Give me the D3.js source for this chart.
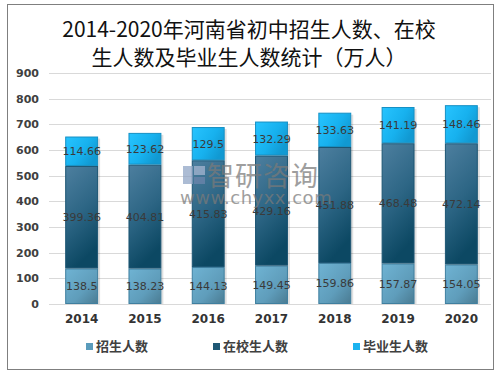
<!DOCTYPE html>
<meta charset="utf-8">
<style>
body { margin: 0; background: #fff; }
text { font-family: "Noto Sans CJK SC", "DejaVu Sans", sans-serif; }
</style>
<svg width="499" height="375"></svg>
<script src="https://cdn.jsdelivr.net/npm/d3@7"></script>
<script>

var years = ["2014", "2015", "2016", "2017", "2018", "2019", "2020"];
var enroll = [138.5, 138.23, 144.13, 149.45, 159.86, 157.87, 154.05];
var inSchool = [399.36, 404.81, 415.83, 429.16, 451.88, 468.48, 472.14];
var graduate = [114.66, 123.62, 129.5, 132.29, 133.63, 141.19, 148.46];
var seriesNames = ["招生人数", "在校生人数", "毕业生人数"];
var yTicks = [0, 100, 200, 300, 400, 500, 600, 700, 800, 900];

var svg = d3.select("svg");

var defs = svg.append("defs");
function grad(id, x2, y2, stops) {
  var g = defs.append("linearGradient").attr("id", id)
      .attr("x1", 0).attr("y1", 0).attr("x2", x2).attr("y2", y2);
  stops.forEach(function(s) {
    g.append("stop").attr("offset", s[0]).attr("stop-color", s[1]);
  });
}
grad("g0", 1, 1, [[0, "#6fb3d3"], [0.6, "#5f9dbb"], [1, "#4a7b92"]]);
grad("g1", 0.3, 1, [[0, "#4d7f9f"], [0.55, "#2c6584"], [1, "#0c4863"]]);
grad("g2", 1, 0.6, [[0, "#27c4ff"], [0.6, "#17b1ee"], [1, "#1199d2"]]);
var fills = ["url(#g0)", "url(#g1)", "url(#g2)"];
var strokes = ["#3f7f9f", "#1c5573", "#1690c4"];
var legendColors = ["#5a9cbc", "#1f5875", "#1cb3ef"];

// frame
svg.append("rect")
    .attr("x", 7.5).attr("y", 4.5)
    .attr("width", 486).attr("height", 365)
    .attr("fill", "none").attr("stroke", "#7f7f7f").attr("stroke-width", 1);

// title
var title = svg.append("text")
    .attr("text-anchor", "middle")
    .attr("font-size", 21)
    .attr("fill", "#111");
title.append("tspan").attr("x", 249).attr("y", 37).text("2014-2020年河南省初中招生人数、在校");
title.append("tspan").attr("x", 249).attr("y", 65).text("生人数及毕业生人数统计（万人）");

var x = d3.scaleBand().domain(years).range([50, 493]).paddingInner(0.48).paddingOuter(0.24);
var y = d3.scaleLinear().domain([0, 900]).range([304, 73]);

// grid
svg.append("g").selectAll("line")
    .data(yTicks)
  .enter().append("line")
    .attr("x1", 49).attr("x2", 491)
    .attr("y1", function(d) { return Math.round(y(d)) + 0.5; })
    .attr("y2", function(d) { return Math.round(y(d)) + 0.5; })
    .attr("stroke", "#d9d9d9");

// y axis labels
var yAxis = d3.axisLeft(y).tickValues(yTicks).tickSize(0).tickPadding(0);
var ya = svg.append("g").attr("transform", "translate(39,0)").call(yAxis);
ya.select(".domain").remove();
ya.selectAll("text")
    .attr("font-size", 11).attr("font-weight", "bold").attr("fill", "#404040")
    .style("font-family", "'DejaVu Sans', sans-serif");

// x axis labels
var xAxis = d3.axisBottom(x).tickSize(0).tickPadding(0);
var xa = svg.append("g").attr("transform", "translate(0,314)").call(xAxis);
xa.select(".domain").remove();
xa.selectAll("text")
    .attr("font-size", 12).attr("font-weight", "bold").attr("fill", "#333")
    .style("font-family", "'DejaVu Sans', sans-serif");

// stacked bars
var rows = years.map(function(yr, i) {
  return { year: yr, s0: enroll[i], s1: inSchool[i], s2: graduate[i] };
});
var stack = d3.stack().keys(["s0", "s1", "s2"]);
var layers = stack(rows);

// shadow
svg.append("g").selectAll("rect")
    .data(rows)
  .enter().append("rect")
    .attr("x", function(d) { return x(d.year) + 2; })
    .attr("y", function(d) { return y(d.s0 + d.s1 + d.s2) + 2; })
    .attr("width", x.bandwidth())
    .attr("height", function(d) { return y(0) - y(d.s0 + d.s1 + d.s2) - 2; })
    .attr("fill", "#000").attr("opacity", 0.12);

layers.forEach(function(layer, k) {
  var g = svg.append("g");
  g.selectAll("rect")
      .data(layer)
    .enter().append("rect")
      .attr("x", function(d) { return x(d.data.year) + 0.5; })
      .attr("y", function(d) { return y(d[1]) + 0.5; })
      .attr("width", x.bandwidth() - 1)
      .attr("height", function(d) { return y(d[0]) - y(d[1]) - 1; })
      .attr("fill", fills[k])
      .attr("stroke", strokes[k]);
  g.selectAll("text")
      .data(layer)
    .enter().append("text")
      .attr("x", function(d) { return x(d.data.year) + x.bandwidth() / 2; })
      .attr("y", function(d) { return (y(d[0]) + y(d[1])) / 2 + 4; })
      .attr("text-anchor", "middle")
      .attr("font-size", 11)
      .attr("fill", "#3a3a3a")
      .style("font-family", "'DejaVu Sans', sans-serif")
      .text(function(d) { return +(d[1] - d[0]).toFixed(2); });
});

// watermark (drawn over the bars, as in the source image)
var wm = svg.append("g").attr("opacity", 0.72);
wm.append("rect").attr("x", 183).attr("y", 166).attr("width", 10).attr("height", 18).attr("fill", "#8da3c4");
wm.append("rect").attr("x", 194).attr("y", 166).attr("width", 11).attr("height", 9).attr("fill", "#a9b8d3");
wm.append("rect").attr("x", 194).attr("y", 177).attr("width", 11).attr("height", 7).attr("fill", "#6f86ad");
wm.append("text").attr("x", 207).attr("y", 186)
    .attr("font-size", 27).attr("fill", "#7a7a7a").attr("letter-spacing", 1).text("智研咨询");
wm.append("text").attr("x", 180).attr("y", 204)
    .attr("font-size", 18).attr("fill", "#7a7a7a").attr("letter-spacing", 0.5)
    .style("font-family", "'DejaVu Sans', sans-serif").text("www.chyxx.com");

// legend
var legendX = [86, 213, 353];
var lg = svg.append("g").selectAll("g")
    .data(seriesNames)
  .enter().append("g")
    .attr("transform", function(d, i) { return "translate(" + legendX[i] + ",343)"; });
lg.append("rect").attr("width", 7).attr("height", 7)
    .attr("fill", function(d, i) { return legendColors[i]; });
lg.append("text").attr("x", 10).attr("y", 8)
    .attr("font-size", 13).attr("font-weight", "bold").attr("fill", "#404040")
    .text(function(d) { return d; });

</script>
